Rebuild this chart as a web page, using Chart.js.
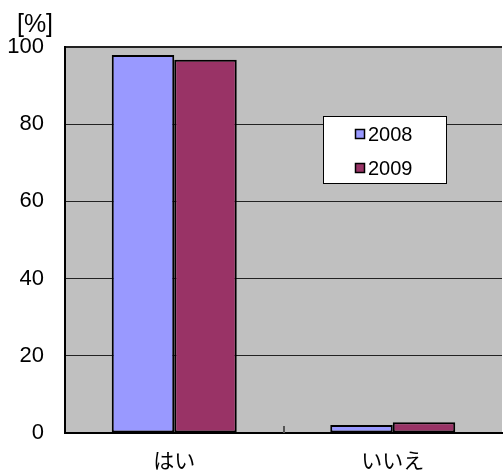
<!DOCTYPE html>
<html>
<head>
<meta charset="utf-8">
<script src="https://cdn.jsdelivr.net/npm/chart.js@4/dist/chart.umd.min.js"></script>
<style>
html,body{margin:0;padding:0;background:#fff;}
#wrap{width:503px;height:473px;position:relative;}
</style>
</head>
<body>
<div id="wrap"><canvas id="c" width="503" height="473"></canvas></div>
<script>
const categories = ["はい", "いいえ"];
const seriesNames = ["2008", "2009"];
const values2008 = [97.9, 2.1];
const values2009 = [96.7, 2.8];
const yTicks = [0, 20, 40, 60, 80, 100];
const unitLabel = "[%]";

const NUM_FONT = "'Liberation Sans', Arial, sans-serif";
const JP_FONT = "'Noto Sans CJK JP', sans-serif";

const bgPlugin = {
  id: 'bg',
  beforeDraw(chart) {
    const {ctx, chartArea: a} = chart;
    ctx.save();
    ctx.fillStyle = '#C0C0C0';
    ctx.fillRect(a.left, a.top, a.right - a.left, a.bottom - a.top);
    ctx.restore();
  },
  afterDatasetsDraw(chart) {
    const {ctx, chartArea: a} = chart;
    const xs = chart.scales.x;
    ctx.save();
    ctx.strokeStyle = '#555';
    ctx.lineWidth = 2;
    for (let i = 0; i < categories.length - 1; i++) {
      const px = Math.round((xs.getPixelForTick(i) + xs.getPixelForTick(i + 1)) / 2);
      ctx.beginPath();
      ctx.moveTo(px, a.bottom);
      ctx.lineTo(px, a.bottom - 7);
      ctx.stroke();
    }
    ctx.fillStyle = '#000';
    ctx.font = "25px " + NUM_FONT;
    ctx.textAlign = 'center';
    ctx.textBaseline = 'middle';
    ctx.fillText(unitLabel, 35, 25);
    const lx = 323.5, ly = 116.5, lw = 123, lh = 67;
    ctx.fillStyle = '#fff';
    ctx.fillRect(lx, ly, lw, lh);
    ctx.strokeStyle = '#000';
    ctx.lineWidth = 1;
    ctx.strokeRect(lx, ly, lw, lh);
    const rows = [134, 168];
    chart.data.datasets.forEach((ds, i) => {
      const cy = rows[i];
      ctx.fillStyle = ds.backgroundColor;
      ctx.fillRect(355, cy - 5, 10, 10);
      ctx.strokeStyle = '#000';
      ctx.lineWidth = 1.5;
      ctx.strokeRect(355.5, cy - 4.5, 9, 9);
      ctx.fillStyle = '#000';
      ctx.font = "20px " + NUM_FONT;
      ctx.textAlign = 'left';
      ctx.textBaseline = 'middle';
      ctx.fillText(ds.label, 368, cy + 1);
    });
    ctx.restore();
  }
};

new Chart(document.getElementById('c'), {
  type: 'bar',
  data: {
    labels: categories,
    datasets: [
      { label: seriesNames[0], data: values2008, backgroundColor: '#9999FF', borderColor: '#000', borderWidth: 2, borderSkipped: false },
      { label: seriesNames[1], data: values2009, backgroundColor: '#993366', borderColor: '#000', borderWidth: 2, borderSkipped: false }
    ]
  },
  options: {
    responsive: false,
    animation: false,
    layout: { padding: { top: 47, right: 1, left: 0, bottom: 0 } },
    plugins: { legend: { display: false }, tooltip: { enabled: false } },
    datasets: { bar: { categoryPercentage: 0.572, barPercentage: 1.0 } },
    scales: {
      x: {
        afterFit(s) { s.height = 40; },
        grid: { display: false },
        border: { display: true, color: '#000', width: 2 },
        ticks: { color: '#000', padding: 6, font: { family: JP_FONT, size: 21 } }
      },
      y: {
        min: 0, max: 100,
        afterFit(s) { s.width = 65; },
        afterBuildTicks(s) { s.ticks = yTicks.map(v => ({ value: v })); },
        grid: { color: '#222', lineWidth: ctx => (ctx.tick && ctx.tick.value === 100) ? 2 : 1, drawTicks: false },
        border: { display: true, color: '#000', width: 2 },
        ticks: { color: '#000', padding: 21, font: { family: NUM_FONT, size: 22 } }
      }
    }
  },
  plugins: [bgPlugin]
});
</script>
</body>
</html>
